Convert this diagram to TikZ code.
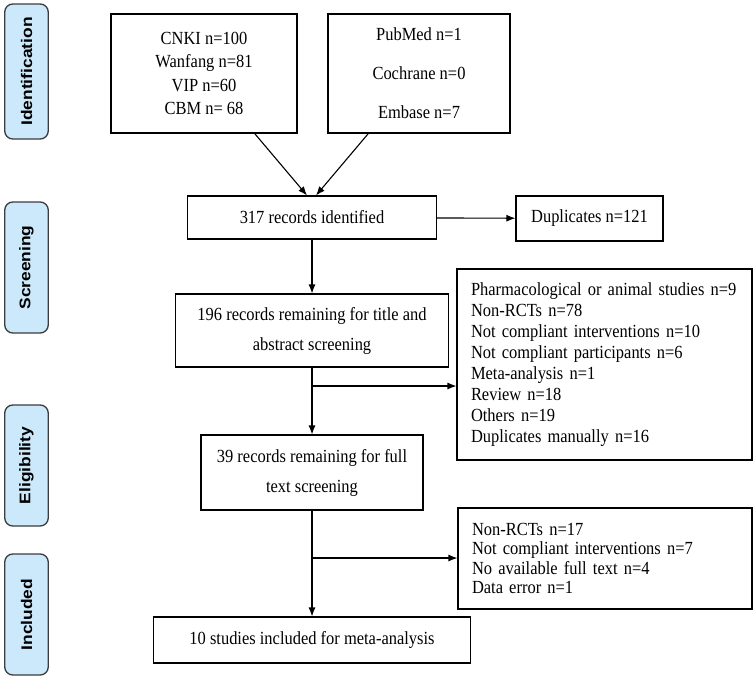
\documentclass[tikz,border=0pt]{standalone}
\usepackage{fontspec}
\setmainfont{Liberation Serif}[FakeStretch = 0.89]
\newfontfamily\stagefont{Liberation Sans}[FakeStretch = 1.13]
\usepackage{tikz}
\usetikzlibrary{arrows}
\usetikzlibrary{arrows.meta}
\usetikzlibrary{positioning}
\definecolor{stageblue}{RGB}{204,233,251}
\definecolor{stageedge}{RGB}{60,60,60}
\tikzset{>={Latex[length=9pt,width=7pt]}}
\tikzstyle{box} = [draw = black, line width = 1.1pt, inner sep = 0pt, align = center, font = \fontsize{18.5}{23.3}\selectfont]
\tikzstyle{listbox} = [draw = black, line width = 1.1pt, inner xsep = 14pt, inner ysep = 0pt, align = left, font = \fontsize{18.5}{21}\selectfont]
\tikzstyle{stage} = [draw = stageedge, fill = stageblue, line width = 1.3pt, rounded corners = 8pt, rotate = 90, minimum height = 43.5pt, inner sep = 0pt, font = \stagefont\bfseries\fontsize{15.4}{18}\selectfont]
\tikzstyle{flow} = [->, draw = black, line width = 1.1pt]

\begin{document}
\begin{tikzpicture}[x = 1pt, y = -1pt]
\useasboundingbox (0, 0) rectangle (755, 680);
\node [stage, minimum width = 135pt] (S1) at (26.5, 71.5) {Identification};
\node [stage, minimum width = 131pt] (S2) at (26.5, 267.5) {Screening};
\node [stage, minimum width = 121pt] (S3) at (26.5, 465.5) {Eligibility};
\node [stage, minimum width = 121pt] (S4) at (26.5, 614.5) {Included};
\node [box, minimum width = 186pt, minimum height = 119pt] (CN) at (204, 73.5) {CNKI n=100\\Wanfang n=81\\VIP n=60\\CBM n= 68};
\node [box, minimum width = 182pt, minimum height = 119pt, font = \fontsize{18.5}{39}\selectfont] (EN) at (419, 73.5) {PubMed n=1\\Cochrane n=0\\Embase n=7};
\node [box, minimum width = 249pt, minimum height = 43pt] (ID) at (312, 217.5) {317 records identified};
\node [box, minimum width = 147pt, minimum height = 45pt] (DU) at (589.5, 218.5) {Duplicates n=121};
\node [box, minimum width = 273pt, minimum height = 73pt, font = \fontsize{18.5}{30}\selectfont] (TA) at (312, 330.5) {196 records remaining for title and\\abstract screening};
\node [listbox, text width = 267pt, minimum height = 191pt] (X1) at (604.5, 364.5) {Pharmacological or animal studies n=9\\Non-RCTs n=78\\Not compliant interventions n=10\\Not compliant participants n=6\\Meta-analysis n=1\\Review n=18\\Others n=19\\Duplicates manually n=16};
\node [box, minimum width = 222pt, minimum height = 75pt, font = \fontsize{18.5}{30}\selectfont] (FT) at (312, 472.5) {39 records remaining for full\\text screening};
\node [listbox, text width = 266pt, minimum height = 101pt, font = \fontsize{18.5}{19.5}\selectfont] (X2) at (605, 558.5) {Non-RCTs n=17\\Not compliant interventions n=7\\No available full text n=4\\Data error n=1};
\node [box, minimum width = 317pt, minimum height = 46pt] (IN) at (312, 640) {10 studies included for meta-analysis};
\coordinate (B1) at (312, 386);
\coordinate (B2) at (312, 558);
\draw [flow] (CN) to ([xshift = -5pt]ID.north);
\draw [flow] (EN) to ([xshift = 4pt]ID.north);
\draw [flow] (ID) to (DU);
\draw [flow] (ID) to (TA);
\draw [flow] (TA) to (FT);
\draw [flow] (B1) to (B1 -| X1.west);
\draw [flow] (FT) to (IN);
\draw [flow] (B2) to (B2 -| X2.west);
\end{tikzpicture}
\end{document}
